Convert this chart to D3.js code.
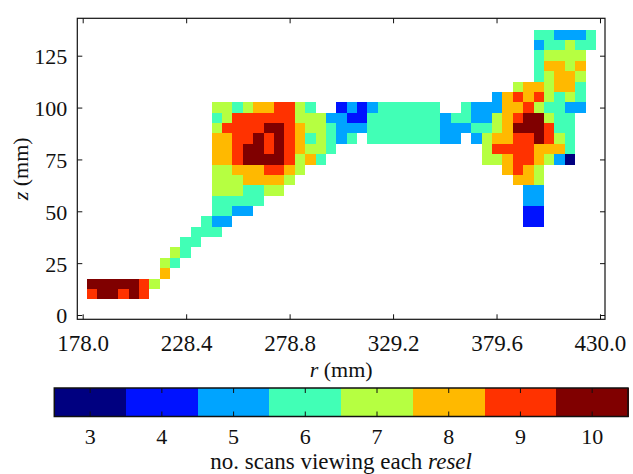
<!DOCTYPE html>
<html><head><meta charset="utf-8">
<script src="https://cdn.jsdelivr.net/npm/d3@7"></script>
<style>
body{margin:0;background:#fff}
svg text{font-family:"Liberation Serif","DejaVu Serif",serif;fill:#111}
</style>
</head><body><svg id="c" width="633" height="474"></svg>
<script>
// ---- data ----
const xTicks = [178.0, 228.4, 278.8, 329.2, 379.6, 430.0];
const zTicks = [0, 25, 50, 75, 100, 125];
const levels = [3, 4, 5, 6, 7, 8, 9, 10];
const levelColors = ["#000080", "#0012ff", "#00a4ff", "#41ffb6", "#b6ff41", "#ffb900", "#ff3200", "#800000"];
// resel grid: first column starts at r = cellR0, first (bottom) row at z = cellZ0
const cellR0 = 180.1, cellDR = 5.06, cellZ0 = 7.55, cellDZ = 5.0;
// rows listed top to bottom; '.' = no resel, 'X' = 10
const gridRows = [
".......... .......... .......... .......... ...665556",
".......... .......... .......... .......... ...566766",
".......... .......... .......... .......... ...67777.",
".......... .......... .......... .......... ...68878.",
".......... .......... .......... .......... ...67887.",
".......... .......... .......... .......... .7887886.",
".......... .......... .......... .........5 89897676.",
".......... ..77678899 76..454566 6666..6555 88976655.",
".......... ..67999999 7775544666 6666566557 89XX766..",
".......... ..79999XX9 8776555666 6666555667 8XXX966..",
".......... ..8899X9X9 867656.666 666655.578 899X976..",
".......... ..889XX9X9 8776...... ........79 9998886..",
".......... ..889XXXX9 786....... ........77 8998753..",
".......... ..77888998 7......... .......... 8987.....",
".......... ..77788887 .......... .......... .887.....",
".......... ..7776677. .......... .......... ..55.....",
".......... ..66666... .......... .......... ..55.....",
".......... ..6655.... .......... .......... ..44.....",
".......... .655...... .......... .......... ..44.....",
".......... 666....... .......... .......... .........",
".........6 6......... .......... .......... .........",
"........76 .......... .......... .......... .........",
".......76. .......... .......... .......... .........",
".......8.. .......... .......... .......... .........",
"XXXXX97... .......... .......... .......... .........",
"9XX9X9.... .......... .......... .......... ........."
];

// ---- layout ----
const svg = d3.select("#c");
const P = {l: 77.3, r: 605, t: 18.3, b: 319.3};
const x = d3.scaleLinear().domain([175.37, 432.44]).range([P.l, P.r]);
const z = d3.scaleLinear().domain([-2.07, 143.03]).range([P.b, P.t]);
const color = d3.scaleOrdinal().domain(levels).range(levelColors);

// cells
const cells = [];
const nRows = gridRows.length;
gridRows.forEach((s, i) => {
  const row = nRows - 1 - i;
  s.replace(/ /g, "").split("").forEach((ch, c) => {
    if (ch === ".") return;
    const v = ch === "X" ? 10 : +ch;
    cells.push({r0: cellR0 + c * cellDR, r1: cellR0 + (c + 1) * cellDR,
                z0: cellZ0 + row * cellDZ, z1: cellZ0 + (row + 1) * cellDZ, v});
  });
});
svg.append("g").attr("shape-rendering", "crispEdges")
  .selectAll("rect").data(cells).join("rect")
  .attr("x", d => x(d.r0)).attr("width", d => x(d.r1) - x(d.r0))
  .attr("y", d => z(d.z1)).attr("height", d => z(d.z0) - z(d.z1))
  .attr("fill", d => color(d.v));

// axes (inward ticks on all sides)
const tick = 5;
const fmt = d3.format(".1f");
const gB = svg.append("g").attr("transform", `translate(0,${P.b})`)
  .call(d3.axisBottom(x).tickValues(xTicks).tickSizeInner(-tick).tickSizeOuter(0).tickPadding(0).tickFormat(fmt));
gB.selectAll("text").attr("y", 32).attr("dy", 0).style("font-size", "23px");
const gT = svg.append("g").attr("transform", `translate(0,${P.t})`)
  .call(d3.axisTop(x).tickValues(xTicks).tickSizeInner(-tick).tickSizeOuter(0).tickFormat(""));
const gL = svg.append("g").attr("transform", `translate(${P.l},0)`)
  .call(d3.axisLeft(z).tickValues(zTicks).tickSizeInner(-tick).tickSizeOuter(0).tickPadding(10));
gL.selectAll("text").attr("x", -10).attr("dy", "0.36em").style("font-size", "22px");
const gR = svg.append("g").attr("transform", `translate(${P.r},0)`)
  .call(d3.axisRight(z).tickValues(zTicks).tickSizeInner(-tick).tickSizeOuter(0).tickFormat(""));
[gB, gT, gL, gR].forEach(g => {
  g.select(".domain").remove();
  g.selectAll("line").attr("stroke", "#111").attr("stroke-width", 1);
  g.selectAll("text").attr("fill", "#111").style("font-family", '"Liberation Serif",serif');
});
svg.append("rect").attr("x", P.l).attr("y", P.t).attr("width", P.r - P.l).attr("height", P.b - P.t)
  .attr("fill", "none").attr("stroke", "#111").attr("stroke-width", 1.2);

// axis titles
const xt = svg.append("text").attr("x", (P.l + P.r) / 2).attr("y", 377).attr("text-anchor", "middle").style("font-size", "22px");
xt.append("tspan").attr("font-style", "italic").text("r");
xt.append("tspan").text(" (mm)");
const zt = svg.append("text").attr("transform", `translate(28,${(P.t + P.b) / 2}) rotate(-90)`).attr("text-anchor", "middle").style("font-size", "22px");
zt.append("tspan").attr("font-style", "italic").text("z");
zt.append("tspan").text(" (mm)");

// colorbar
const CB = {l: 54.3, r: 628, t: 388, b: 416.5};
const cb = d3.scaleBand().domain(levels).range([CB.l, CB.r]).padding(0);
const gC = svg.append("g");
gC.append("g").attr("shape-rendering", "crispEdges").selectAll("rect").data(levels).join("rect")
  .attr("x", d => cb(d)).attr("y", CB.t).attr("width", cb.bandwidth() + 0.5).attr("height", CB.b - CB.t)
  .attr("fill", d => color(d));
gC.append("rect").attr("x", CB.l).attr("y", CB.t).attr("width", CB.r - CB.l).attr("height", CB.b - CB.t)
  .attr("fill", "none").attr("stroke", "#111").attr("stroke-width", 1.5);
const cbT = gC.selectAll("g.t").data(levels).join("g").attr("class", "t")
  .attr("transform", d => `translate(${cb(d) + cb.bandwidth() / 2},0)`);
cbT.append("line").attr("y1", CB.t).attr("y2", CB.t + 5).attr("stroke", "#111");
cbT.append("line").attr("y1", CB.b).attr("y2", CB.b - 5).attr("stroke", "#111");
cbT.append("text").attr("y", 444).attr("text-anchor", "middle").style("font-size", "22px").text(d => d);
const ct = svg.append("text").attr("x", (CB.l + CB.r) / 2).attr("y", 469).attr("text-anchor", "middle").style("font-size", "23px");
ct.append("tspan").text("no. scans viewing each ");
ct.append("tspan").attr("font-style", "italic").text("resel");
</script>
</body></html>
